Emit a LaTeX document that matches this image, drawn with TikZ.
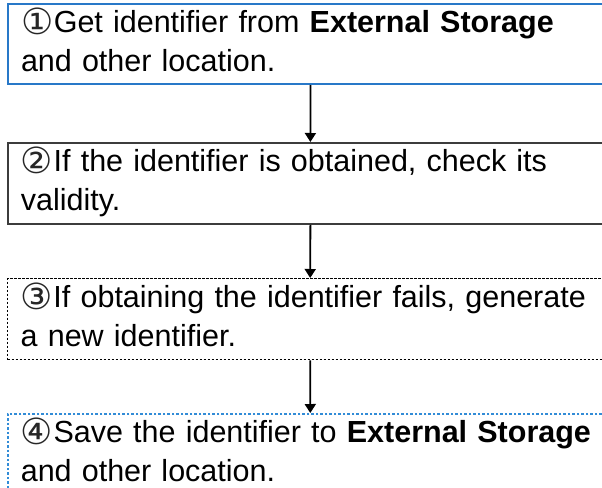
\documentclass[tikz,border=0pt]{standalone}
\usepackage{fontspec}
\setmainfont{Liberation Sans}
\newfontfamily\circfont{DejaVu Sans}
\usetikzlibrary{arrows.meta}
\definecolor{boxblue}{RGB}{40,120,200}
\definecolor{dotblue}{RGB}{50,140,215}
\definecolor{boxgray}{RGB}{60,60,60}
\newcommand{\topstrut}{\rule{0pt}{24pt}}
\newcommand{\botstrut}{\rule[-8pt]{0pt}{8pt}}
\newcommand{\cn}[1]{\smash{\raisebox{-2pt}{\fontsize{36pt}{39pt}\circfont\color{black!85}#1}}\hspace{0.5pt}}
\begin{document}
\begin{tikzpicture}[x=1pt,y=1pt,
  stepbox/.style={anchor=north west, align=left, text width=600pt,
    inner xsep=13pt, inner ysep=0pt, minimum height=80pt,
    font=\fontsize{30.5pt}{39pt}\selectfont},
  flowarrow/.style={line width=1.8pt, -{Triangle[width=11pt,length=9pt]}}
]
\clip (0,0) rectangle (602,-487);
\fill[white] (0,0) rectangle (602,-487);
\node[stepbox, draw=boxblue, line width=2pt] (s1) at (7,-3)
  {\topstrut\cn{①}Get identifier from \textbf{External Storage}\\and other location.\botstrut};
\node[stepbox, draw=boxgray, line width=1.8pt, minimum height=81pt] (s2) at (7,-142)
  {\topstrut\cn{②}If the identifier is obtained, check its\\validity.\botstrut};
\node[stepbox, draw=black, line width=1.4pt, dash pattern=on 2.5pt off 1.5pt, minimum height=81pt] (s3) at (7,-278)
  {\topstrut\cn{③}If obtaining the identifier fails, generate\\a new identifier.\botstrut};
\node[stepbox, draw=dotblue, line width=1.6pt, dash pattern=on 2.5pt off 2pt] (s4) at (7,-413)
  {\topstrut\cn{④}Save the identifier to \textbf{External Storage}\\and other location.\botstrut};
\draw[flowarrow] ([xshift=-10.5pt]s1.south) -- ([xshift=-10.5pt]s2.north);
\draw[flowarrow] ([xshift=-10.5pt]s2.south) -- ([xshift=-10.5pt]s3.north);
\draw[flowarrow] ([xshift=-10.5pt]s3.south) -- ([xshift=-10.5pt]s4.north);
\end{tikzpicture}
\end{document}
